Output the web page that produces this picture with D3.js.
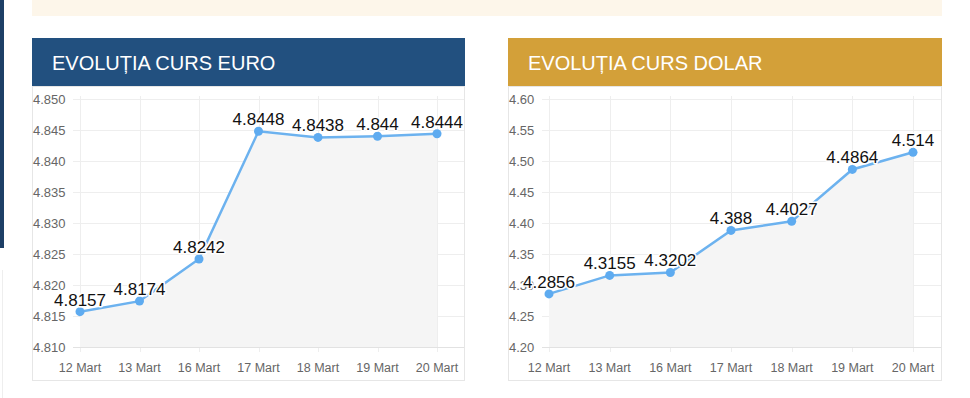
<!DOCTYPE html>
<html><head><meta charset="utf-8">
<script src="https://cdn.jsdelivr.net/npm/d3@7"></script>
<style>
body{margin:0;background:#fff;font-family:"Liberation Sans",Arial,sans-serif;}
</style></head>
<body><svg id="c" width="970" height="398"></svg>
<script>
const categories = ["12 Mart","13 Mart","16 Mart","17 Mart","18 Mart","19 Mart","20 Mart"];
const euroValues = [4.8157, 4.8174, 4.8242, 4.8448, 4.8438, 4.844, 4.8444];
const dolarValues = [4.2856, 4.3155, 4.3202, 4.388, 4.4027, 4.4864, 4.514];
const euroTicks = [4.810, 4.815, 4.820, 4.825, 4.830, 4.835, 4.840, 4.845, 4.850];
const dolarTicks = [4.20, 4.25, 4.30, 4.35, 4.40, 4.45, 4.50, 4.55, 4.60];
const euroTitle = "EVOLUȚIA CURS EURO";
const dolarTitle = "EVOLUȚIA CURS DOLAR";

const svg = d3.select("#c");
const FONT = '"Liberation Sans",Arial,sans-serif';

// page decorations
svg.append("rect").attr("x",0).attr("y",0).attr("width",4).attr("height",248).attr("fill","#1d3f66");
svg.append("rect").attr("x",2).attr("y",270).attr("width",1).attr("height",128).attr("fill","#eeeeee");
svg.append("rect").attr("x",32).attr("y",0).attr("width",910).attr("height",16).attr("fill","#fdf6ea");

function panel(cfg){
  const g = svg.append("g");
  g.append("rect").attr("x",cfg.x0+0.5).attr("y",86.5).attr("width",cfg.w-1).attr("height",294)
    .attr("fill","#fff").attr("stroke","#e6e6e6");
  g.append("rect").attr("x",cfg.x0).attr("y",38).attr("width",cfg.w).attr("height",48).attr("fill",cfg.color);
  g.append("text").attr("x",cfg.x0+20).attr("y",70).attr("fill","#fff")
    .style("font-family",FONT).style("font-size","20px").text(cfg.title);

  const x = d3.scalePoint().domain(categories).range([cfg.xa, cfg.xb]);
  const y = d3.scaleLinear().domain(cfg.domain).range([347, 99]);
  const left = cfg.xa - 7, right = cfg.x0 + cfg.w - 1;

  g.selectAll(".hg").data(cfg.ticks).join("line")
    .attr("x1",left).attr("x2",right).attr("y1",d=>Math.round(y(d))+0.5).attr("y2",d=>Math.round(y(d))+0.5)
    .attr("stroke","#eeeeee");
  g.selectAll(".vg").data(categories).join("line")
    .attr("x1",d=>Math.round(x(d))+0.5).attr("x2",d=>Math.round(x(d))+0.5).attr("y1",96).attr("y2",352)
    .attr("stroke","#eeeeee");
  g.append("line").attr("x1",left).attr("x2",right).attr("y1",347.5).attr("y2",347.5).attr("stroke","#e2e2e2");

  g.selectAll(".yl").data(cfg.ticks).join("text")
    .attr("x",cfg.x0+1).attr("y",d=>y(d)+4.5)
    .attr("fill","#666").style("font-family",FONT).style("font-size","13px")
    .text(d=>d3.format(cfg.fmt)(d));
  g.selectAll(".xl").data(categories).join("text")
    .attr("x",d=>x(d)).attr("y",372).attr("text-anchor","middle")
    .attr("fill","#666").style("font-family",FONT).style("font-size","12.5px").text(d=>d);

  const data = categories.map((c,i)=>({c, v: cfg.values[i]}));
  g.append("path").datum(data)
    .attr("d", d3.area().x(d=>x(d.c)).y0(347).y1(d=>y(d.v)))
    .attr("fill","#f5f5f5");
  g.append("path").datum(data)
    .attr("d", d3.line().x(d=>x(d.c)).y(d=>y(d.v)))
    .attr("fill","none").attr("stroke","#6cb2ef").attr("stroke-width",2.5);
  g.selectAll(".pt").data(data).join("circle")
    .attr("cx",d=>x(d.c)).attr("cy",d=>y(d.v)).attr("r",4.5).attr("fill","#5eabf0");
  g.selectAll(".lb").data(data).join("text")
    .attr("x",d=>x(d.c)).attr("y",d=>y(d.v)-6).attr("text-anchor","middle")
    .attr("fill","#111").attr("stroke","#fff").attr("stroke-width",3).attr("paint-order","stroke")
    .attr("stroke-linejoin","round")
    .style("font-family",FONT).style("font-size","17px")
    .text(d=>String(d.v));
}

panel({x0:32, w:433, color:"#22507f", title:euroTitle, xa:80, xb:437,
  domain:[4.810,4.850], ticks:euroTicks, values:euroValues, fmt:".3f"});
panel({x0:508, w:434, color:"#d3a039", title:dolarTitle, xa:549, xb:913,
  domain:[4.20,4.60], ticks:dolarTicks, values:dolarValues, fmt:".2f"});
</script>
</body></html>
